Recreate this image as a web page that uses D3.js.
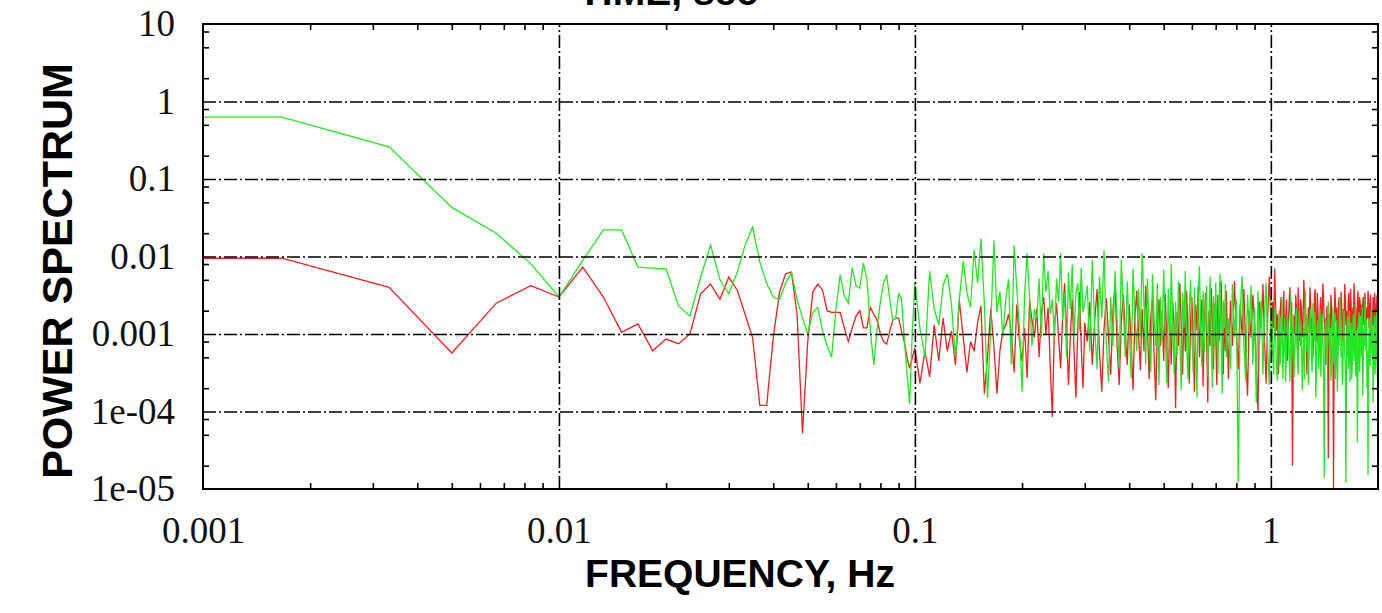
<!DOCTYPE html>
<html>
<head>
<meta charset="utf-8">
<script src="https://cdn.jsdelivr.net/npm/d3@7"></script>
<style>
  html, body { margin: 0; padding: 0; background: #fff; }
  svg { display: block; }
</style>
</head>
<body>
<div id="spectrum-plot"></div>
<script>
/* ----------------------------------------------------- Data ------------------------------------------------------------------------- */

// frequency, Hz, up to 1 Hz (bins of 1/600 Hz up to 0.3 Hz, thinned above)
const freqs = [
    0.001,
    0.001667, 0.003333, 0.005, 0.006667, 0.008333, 0.01, 0.011667, 0.013333, 0.015, 0.016667,
    0.018333, 0.02, 0.021667, 0.023333, 0.025, 0.026667, 0.028333, 0.03, 0.031667, 0.033333,
    0.035, 0.036667, 0.038333, 0.04, 0.041667, 0.043333, 0.045, 0.046667, 0.048333, 0.05,
    0.051667, 0.053333, 0.055, 0.056667, 0.058333, 0.06, 0.061667, 0.063333, 0.065, 0.066667,
    0.068333, 0.07, 0.071667, 0.073333, 0.075, 0.076667, 0.078333, 0.08, 0.081667, 0.083333,
    0.085, 0.086667, 0.088333, 0.09, 0.091667, 0.093333, 0.095, 0.096667, 0.098333, 0.1,
    0.1033, 0.1067, 0.11, 0.1133, 0.1167, 0.12, 0.1233, 0.1267, 0.13, 0.1333,
    0.1367, 0.14, 0.1433, 0.1467, 0.15, 0.1533, 0.1567, 0.16, 0.1633, 0.1667,
    0.17, 0.1733, 0.1767, 0.18, 0.1833, 0.1867, 0.19, 0.1933, 0.1967, 0.2,
    0.2033, 0.2067, 0.21, 0.2133, 0.2167, 0.22, 0.2233, 0.2267, 0.23, 0.2333,
    0.2367, 0.24, 0.2433, 0.2467, 0.25, 0.2533, 0.2567, 0.26, 0.2633, 0.2667,
    0.27, 0.2733, 0.2767, 0.28, 0.2833, 0.2867, 0.29, 0.2933, 0.2967, 0.3,
    0.305, 0.31, 0.315, 0.32, 0.325, 0.33, 0.335, 0.34, 0.345, 0.35,
    0.355, 0.36, 0.365, 0.37, 0.375, 0.38, 0.385, 0.39, 0.395, 0.4,
    0.405, 0.41, 0.415, 0.42, 0.425, 0.43, 0.435, 0.44, 0.445, 0.45,
    0.455, 0.46, 0.465, 0.47, 0.475, 0.48, 0.485, 0.49, 0.495, 0.5,
    0.505, 0.51, 0.515, 0.52, 0.525, 0.53, 0.535, 0.54, 0.545, 0.55,
    0.555, 0.56, 0.565, 0.57, 0.575, 0.58, 0.585, 0.59, 0.595, 0.6,
    0.605, 0.61, 0.615, 0.62, 0.625, 0.63, 0.635, 0.64, 0.645, 0.65,
    0.655, 0.66, 0.665, 0.67, 0.675, 0.68, 0.685, 0.69, 0.695, 0.7,
    0.705, 0.71, 0.715, 0.72, 0.725, 0.73, 0.735, 0.74, 0.745, 0.75,
    0.76, 0.77, 0.78, 0.79, 0.8, 0.81, 0.82, 0.83, 0.84, 0.85,
    0.86, 0.87, 0.88, 0.89, 0.9, 0.91, 0.92, 0.93, 0.94, 0.95,
    0.96, 0.97, 0.98, 0.99, 1.0
];

// red series power up to 1 Hz
const redPower = [
    0.0095,
    0.0095, 0.004, 0.00057, 0.0025, 0.0042, 0.003, 0.0073, 0.003, 0.00105, 0.00135,
    0.00061, 0.00086, 0.00075, 0.001, 0.0033, 0.0044, 0.0028, 0.0054, 0.0037, 0.0018,
    0.0009, 0.00012, 0.00012, 0.0009, 0.0035, 0.006, 0.0063, 0.0018, 0.000052, 0.0008,
    0.0035, 0.0044, 0.0037, 0.002, 0.0019, 0.0019, 0.0019, 0.0012, 0.0008, 0.0012,
    0.0017, 0.002, 0.0012, 0.0012, 0.0022, 0.0018, 0.0015, 0.001, 0.0008, 0.00074,
    0.0011, 0.0015, 0.0016, 0.0016, 0.0011, 0.0008, 0.0005, 0.00036, 0.0005, 0.00066,
    2.3e-4, 6e-4, 2.8e-4, 1.3e-3, 4.5e-4, 1.6e-3, 6e-4, 1.1e-3, 4e-4, 2.7e-3,
    9e-4, 3.2e-4, 8e-4, 6e-4, 1.4e-3, 2.3e-3, 1.7e-4, 5e-4, 2.1e-3, 7e-4,
    1.7e-4, 6e-4, 1.1e-3, 1.3e-3, 1.8e-3, 1e-3, 3.2e-4, 2.4e-3, 8e-4, 4.5e-4,
    1.2e-3, 2.7e-4, 2.7e-3, 1.5e-3, 9e-4, 2.1e-3, 5e-4, 1.9e-3, 3e-3, 1e-3,
    2.2e-3, 4e-4, 8.5e-5, 1.3e-3, 2.5e-3, 9e-4, 3.6e-4, 1.6e-3, 4.5e-3, 1.2e-3,
    2.2e-4, 9e-4, 2.8e-3, 6e-4, 1.5e-4, 1.1e-3, 3.5e-3, 7e-4, 2e-4, 1.4e-3,
    8e-4, 2.6e-3, 4e-4, 1.5e-3, 3.8e-3, 6e-4, 1.8e-4, 1.2e-3, 2.9e-3, 9e-4,
    3e-4, 2e-3, 4.4e-3, 7e-4, 2.2e-4, 1.4e-3, 3.2e-3, 1.1e-3, 4e-4, 2.4e-3,
    8e-4, 1.9e-4, 1.6e-3, 3.6e-3, 1e-3, 3.4e-4, 2.1e-3, 6e-4, 4.2e-3, 1.3e-3,
    2.6e-4, 1.7e-3, 3e-3, 5e-4, 1.4e-4, 1.2e-3, 2.8e-3, 7e-4, 2e-3, 4.5e-4,
    3.3e-3, 9e-4, 2e-4, 1.5e-3, 4e-4, 2.6e-3, 1.2e-3, 1.1e-4, 1.9e-3, 7e-4,
    4.5e-3, 1.3e-3, 3e-4, 2.2e-3, 6e-4, 3.6e-3, 1e-3, 2.3e-4, 1.6e-3, 3e-3,
    8e-4, 1.8e-4, 2.4e-3, 1.1e-3, 4.2e-3, 5e-4, 1.4e-3, 2.8e-3, 2.1e-4, 1.2e-3,
    3.4e-3, 9e-4, 1.3e-4, 2e-3, 7e-4, 3.9e-3, 1.5e-3, 3.5e-4, 2.5e-3, 1e-3,
    2.2e-4, 3.2e-3, 8e-4, 1.8e-3, 4.8e-3, 1.1e-3, 3e-4, 2.2e-3, 6e-4, 3.6e-3,
    2.6e-4, 2.7e-3, 7e-4, 4.8e-3, 1.1e-3, 3.5e-4, 2.4e-3, 1e-3, 3.8e-3, 6e-4,
    1.6e-4, 2e-3, 9e-4, 3.2e-3, 1.4e-3, 4e-4, 1e-4, 2.6e-3, 1.2e-3, 4.4e-3,
    8e-4, 2.3e-4, 1.8e-3, 5.5e-3, 1.5e-3
];

// green series power up to 1 Hz
const greenPower = [
    0.63,
    0.63, 0.26, 0.043, 0.02, 0.0081, 0.003, 0.0089, 0.022, 0.022, 0.0073,
    0.0071, 0.0069, 0.0023, 0.0017, 0.0054, 0.014, 0.005, 0.0033, 0.0062, 0.014,
    0.024, 0.0085, 0.0045, 0.003, 0.0028, 0.0045, 0.0062, 0.0028, 0.0016, 0.001,
    0.0019, 0.0022, 0.0011, 0.0007, 0.0005, 0.0021, 0.0058, 0.0031, 0.0025, 0.0072,
    0.0042, 0.0039, 0.0082, 0.0051, 0.0011, 0.0004, 0.0012, 0.0026, 0.0046, 0.0057,
    0.0028, 0.0015, 0.0016, 0.0033, 0.0029, 0.0009, 0.00032, 0.000125, 0.0011, 0.0045,
    0.0012, 0.0005, 0.0065, 0.0021, 0.0013, 0.0042, 0.006, 0.0024, 0.0005, 0.0028,
    0.0088, 0.0034, 0.0022, 0.012, 0.0045, 0.017, 0.0025, 0.00015, 0.0012, 0.016,
    0.0019, 0.0035, 0.0009, 0.0028, 0.0051, 0.0004, 0.014, 0.0038, 0.0012, 0.00018,
    0.0032, 0.011, 0.0029, 0.0007, 0.0021, 0.0016, 0.0052, 0.0009, 0.011, 0.0035,
    0.0065, 0.0018, 0.0028, 0.0009, 0.0052, 0.0026, 0.011, 0.0015, 0.0034, 0.0005,
    0.0062, 0.0021, 0.0078, 0.0009, 0.0033, 0.0045, 0.0011, 0.0072, 0.0019, 0.0025,
    4.2e-3, 6e-4, 9e-3, 1.2e-3, 3.5e-4, 5.5e-3, 1.6e-3, 1.2e-2, 8e-4, 2.4e-4,
    3e-3, 7e-4, 6.5e-3, 1.5e-3, 3.6e-4, 9e-3, 2.1e-3, 5e-4, 4.8e-3, 1.1e-3,
    2.7e-4, 7e-3, 1.8e-3, 6e-4, 3.8e-3, 9e-4, 1.1e-2, 2.5e-3, 4e-4, 5.2e-3,
    1.3e-3, 3.2e-4, 6e-3, 1.6e-3, 7e-4, 4.5e-3, 2.2e-4, 3e-3, 8e-4, 6.8e-3,
    1.1e-3, 2.3e-4, 3.8e-3, 6e-4, 8e-3, 1.4e-3, 3e-4, 2.6e-3, 5e-4, 4.8e-3,
    9e-4, 1.9e-4, 3.4e-3, 1.2e-3, 6.5e-3, 7e-4, 2.6e-4, 2.2e-3, 5e-3, 1e-3,
    3.2e-4, 4e-3, 8e-4, 1.5e-4, 2.9e-3, 7.5e-3, 1.2e-3, 3.8e-4, 3.6e-3, 6e-4,
    2.2e-3, 4.2e-3, 2.8e-4, 1.6e-3, 5.5e-3, 9e-4, 2e-4, 3.1e-3, 7e-4, 4.6e-3,
    1.1e-3, 3e-4, 2.5e-3, 6e-3, 8e-4, 1.7e-4, 2.7e-3, 1.2e-3, 4.4e-3, 5e-4,
    1.6e-3, 3.5e-4, 4.4e-3, 9e-4, 2.8e-3, 1.2e-5, 2e-3, 5.6e-3, 7e-4, 2.5e-4,
    3.2e-3, 1.1e-3, 4.2e-3, 4e-4, 2.2e-3, 1.3e-4, 3.6e-3, 8e-4, 2.7e-3, 3e-4,
    1.9e-3, 4.6e-3, 6e-4, 2.2e-4, 3e-3
];

// 1 - 2 Hz band, read at a finer step
const highFreqs = [
    1.00625, 1.0125, 1.01875, 1.025, 1.03125, 1.0375, 1.04375, 1.05, 1.05625, 1.0625,
    1.06875, 1.075, 1.08125, 1.0875, 1.09375, 1.1, 1.10625, 1.1125, 1.11875, 1.125,
    1.13125, 1.1375, 1.14375, 1.15, 1.15625, 1.1625, 1.16875, 1.175, 1.18125, 1.1875,
    1.19375, 1.2, 1.20625, 1.2125, 1.21875, 1.225, 1.23125, 1.2375, 1.24375, 1.25,
    1.25625, 1.2625, 1.26875, 1.275, 1.28125, 1.2875, 1.29375, 1.3, 1.30625, 1.3125,
    1.31875, 1.325, 1.33125, 1.3375, 1.34375, 1.35, 1.35625, 1.3625, 1.36875, 1.375,
    1.38125, 1.3875, 1.39375, 1.4, 1.40625, 1.4125, 1.41875, 1.425, 1.43125, 1.4375,
    1.44375, 1.45, 1.45625, 1.4625, 1.46875, 1.475, 1.48125, 1.4875, 1.49375, 1.5,
    1.50625, 1.5125, 1.51875, 1.525, 1.53125, 1.5375, 1.54375, 1.55, 1.55625, 1.5625,
    1.56875, 1.575, 1.58125, 1.5875, 1.59375, 1.6, 1.60625, 1.6125, 1.61875, 1.625,
    1.63125, 1.6375, 1.64375, 1.65, 1.65625, 1.6625, 1.66875, 1.675, 1.68125, 1.6875,
    1.69375, 1.7, 1.70625, 1.7125, 1.71875, 1.725, 1.73125, 1.7375, 1.74375, 1.75,
    1.75625, 1.7625, 1.76875, 1.775, 1.78125, 1.7875, 1.79375, 1.8, 1.80625, 1.8125,
    1.81875, 1.825, 1.83125, 1.8375, 1.84375, 1.85, 1.85625, 1.8625, 1.86875, 1.875,
    1.88125, 1.8875, 1.89375, 1.9, 1.90625, 1.9125, 1.91875, 1.925, 1.93125, 1.9375,
    1.94375, 1.95, 1.95625, 1.9625, 1.96875, 1.975, 1.98125, 1.9875, 1.99375, 2.0
];

const redHigh = [
    5e-4, 2.6e-3, 1.2e-3, 7e-3, 2.4e-3, 1.1e-3, 1.8e-3, 3e-4, 6e-4, 2e-3,
    3e-3, 8e-4, 1.2e-3, 3.6e-3, 6e-4, 1.4e-3, 2.8e-3, 4.5e-4, 1.1e-3, 2.4e-3,
    4e-3, 1e-3, 2.6e-3, 2e-5, 7e-4, 1.7e-3, 1e-3, 3.2e-3, 2e-3, 6e-4,
    4e-3, 1.5e-3, 8e-4, 2.8e-3, 2.2e-3, 9e-4, 1.4e-3, 5e-3, 2.8e-3, 1.2e-3,
    1.8e-3, 3e-4, 9e-4, 2.2e-3, 1.3e-3, 4e-3, 2.4e-3, 1e-3, 1.6e-3, 5e-4,
    1.1e-3, 2.6e-3, 3.8e-3, 1.3e-3, 8e-4, 3.4e-3, 2e-3, 7e-4, 1.2e-3, 2e-3,
    3e-3, 1.1e-3, 1.6e-3, 4.5e-3, 2.8e-3, 1.5e-3, 1.2e-3, 4e-4, 9e-4, 2.3e-3,
    1.4e-3, 2.5e-5, 6e-4, 1.8e-3, 1.1e-3, 3.2e-3, 2.2e-3, 9e-4, 1.5e-3, 1e-5,
    9e-4, 4e-3, 2.6e-3, 1.4e-3, 2.2e-3, 6e-4, 1e-3, 2.5e-3, 3e-3, 1.2e-3,
    1.6e-3, 3.5e-3, 2.4e-3, 8e-4, 1.2e-3, 2.1e-3, 1.4e-3, 4.4e-3, 2.8e-3, 1.3e-3,
    2e-3, 5e-4, 1e-3, 2.7e-3, 3.4e-3, 1.6e-3, 1.1e-3, 3.8e-3, 2.4e-3, 1e-3,
    1.4e-3, 2.2e-3, 1.2e-3, 4.5e-3, 3e-3, 1.5e-3, 2.2e-3, 6e-4, 1e-3, 2.4e-3,
    3.6e-3, 1.2e-3, 1.6e-3, 3e-3, 2.6e-3, 1.7e-3, 2.4e-3, 8e-4, 1.2e-3, 2.6e-3,
    3e-3, 1.3e-3, 2e-3, 3.4e-3, 2.4e-3, 1e-3, 1.4e-3, 2.2e-3, 1.6e-3, 3.6e-3,
    2.8e-3, 1.2e-3, 1.4e-3, 2.5e-3, 3.2e-3, 7e-4, 1e-3, 2e-3, 1.3e-3, 3e-3,
    2.2e-3, 1.1e-3, 3.4e-3, 2.4e-3, 1.2e-3, 1.5e-3, 2.4e-3, 3.2e-3, 1.2e-3, 1.8e-3
];

const greenHigh = [
    1.5e-3, 6e-4, 3e-4, 2.2e-3, 9e-4, 3.5e-4, 2.5e-4, 1.4e-3, 2e-3, 4e-4,
    8e-4, 2.8e-3, 2.6e-4, 7e-4, 1.6e-3, 2.4e-4, 6e-4, 1.8e-3, 1.2e-3, 5e-4,
    2.4e-4, 3.2e-3, 4e-4, 9e-4, 1.8e-3, 2.8e-4, 6e-4, 1.5e-3, 2.2e-3, 4.5e-4,
    3e-4, 2e-3, 1.4e-3, 7e-4, 1.1e-3, 1.9e-4, 5e-4, 1.2e-3, 2.6e-4, 3.6e-3,
    1.3e-3, 6e-4, 1.6e-3, 2.2e-4, 6e-4, 1.7e-3, 2.1e-3, 5e-4, 3.2e-4, 2.5e-3,
    1e-3, 8e-4, 1.9e-3, 1.5e-4, 4e-4, 1.3e-3, 1.5e-3, 3.5e-4, 7e-4, 2.1e-3,
    2.8e-4, 6e-4, 1.8e-3, 1e-3, 3e-4, 1.4e-5, 5e-4, 1.6e-3, 1.1e-3, 4e-4,
    7e-4, 2.6e-3, 1.9e-3, 7e-4, 1.2e-3, 2.5e-4, 3.5e-4, 1.4e-3, 2.2e-3, 4.2e-4,
    8e-4, 1.9e-3, 2.6e-4, 6e-4, 1.5e-3, 1.8e-4, 4.5e-4, 1.1e-3, 7e-4, 3e-3,
    1.6e-3, 5e-4, 9e-4, 2.2e-4, 3e-4, 1.5e-3, 2e-3, 6e-4, 3.5e-4, 1.2e-5,
    4e-4, 1.2e-3, 1.7e-3, 3.5e-4, 6e-4, 2e-3, 2.4e-4, 8e-4, 1.4e-3, 2.6e-4,
    4e-4, 1.3e-3, 1.8e-3, 4.5e-4, 7e-4, 2.4e-3, 2.8e-4, 7e-4, 1.1e-3, 4e-5,
    3e-4, 1e-3, 1.9e-3, 3.2e-4, 5e-4, 1.7e-3, 1.2e-3, 5e-4, 2.2e-3, 1.6e-4,
    4e-4, 1.2e-3, 7e-4, 2.8e-3, 1.4e-3, 6e-4, 1.5e-3, 2e-4, 6e-4, 1.5e-5,
    3e-4, 1.1e-3, 1.6e-3, 3.8e-4, 6e-4, 1.8e-3, 2.1e-3, 5e-4, 1.2e-3, 1.3e-4,
    3.2e-4, 1e-3, 1.7e-3, 3e-4, 5e-4, 1.4e-3, 2e-3, 4e-4, 2.5e-4, 8e-4
];

const xTicks = [0.001, 0.01, 0.1, 1];
const xTickLabels = ['0.001', '0.01', '0.1', '1'];
const yTicks = [10, 1, 0.1, 0.01, 0.001, 1e-4, 1e-5];
const yTickLabels = ['10', '1', '0.1', '0.01', '0.001', '1e-04', '1e-05'];

/* ----------------------------------------------------- Plot ------------------------------------------------------------------------- */

function drawSpectrum() {
    const svgWidth = 1382;
    const svgHeight = 613;
    const margin = { top: 24, right: 4, bottom: 124, left: 203 };
    const plotRight = svgWidth - margin.right;
    const plotBottom = svgHeight - margin.bottom;

    const svg = d3.select('#spectrum-plot').append('svg')
        .attr('width', svgWidth)
        .attr('height', svgHeight);

    const xScale = d3.scaleLog()
        .domain([0.001, 2])
        .range([margin.left, plotRight]);

    const yScale = d3.scaleLog()
        .domain([1e-5, 10])
        .range([plotBottom, margin.top]);

    /* minor ticks: 2..9 on x, 2/5/8 on y */
    const xMinor = [];
    [0.001, 0.01, 0.1, 1].forEach(dec => {
        for (let m = 2; m <= 9; m++) {
            if (dec * m < 2) xMinor.push(dec * m);
        }
    });
    const yMinor = [];
    [1e-5, 1e-4, 1e-3, 1e-2, 0.1, 1].forEach(dec => {
        [2, 5, 8].forEach(m => yMinor.push(dec * m));
    });

    svg.append('defs').append('clipPath')
        .attr('id', 'plot-clip')
        .append('rect')
        .attr('x', margin.left)
        .attr('y', margin.top)
        .attr('width', plotRight - margin.left)
        .attr('height', plotBottom - margin.top);

    /* spectra */
    const allFreqs = freqs.concat(highFreqs);
    const redSeries = d3.zip(allFreqs, redPower.concat(redHigh));
    const greenSeries = d3.zip(allFreqs, greenPower.concat(greenHigh));

    const line = d3.line()
        .x(d => xScale(d[0]))
        .y(d => yScale(d[1]));

    const lines = svg.append('g').attr('clip-path', 'url(#plot-clip)');

    lines.append('path')
        .datum(redSeries)
        .attr('d', line)
        .attr('fill', 'none')
        .attr('stroke', '#f02020')
        .attr('stroke-width', 1.3);

    lines.append('path')
        .datum(greenSeries)
        .attr('d', line)
        .attr('fill', 'none')
        .attr('stroke', '#22e822')
        .attr('stroke-width', 1.3);

    /* grid (dash-dot) */
    const gridX = svg.append('g')
        .attr('transform', `translate(0, ${plotBottom})`)
        .call(d3.axisBottom(xScale).tickValues([0.01, 0.1, 1]).tickSize(-(plotBottom - margin.top)).tickFormat(''));
    const gridY = svg.append('g')
        .attr('transform', `translate(${margin.left}, 0)`)
        .call(d3.axisLeft(yScale).tickValues([1, 0.1, 0.01, 0.001, 1e-4]).tickSize(-(plotRight - margin.left)).tickFormat(''));
    [gridX, gridY].forEach(g => {
        g.select('.domain').remove();
        g.selectAll('line')
            .attr('stroke', '#000')
            .attr('stroke-width', 1.6)
            .attr('stroke-dasharray', '13,3,2,3');
    });

    /* minor ticks, inward on all four sides */
    const tickAxes = [
        [d3.axisBottom(xScale).tickValues(xMinor), `translate(0, ${plotBottom})`],
        [d3.axisTop(xScale).tickValues(xMinor), `translate(0, ${margin.top})`],
        [d3.axisLeft(yScale).tickValues(yMinor), `translate(${margin.left}, 0)`],
        [d3.axisRight(yScale).tickValues(yMinor), `translate(${plotRight}, 0)`]
    ];
    tickAxes.forEach(([axis, tr]) => {
        const g = svg.append('g')
            .attr('transform', tr)
            .call(axis.tickSize(-6).tickFormat(''));
        g.select('.domain').remove();
        g.selectAll('line').attr('stroke', '#000').attr('stroke-width', 1.6);
    });

    /* frame */
    svg.append('rect')
        .attr('x', margin.left)
        .attr('y', margin.top)
        .attr('width', plotRight - margin.left)
        .attr('height', plotBottom - margin.top)
        .attr('fill', 'none')
        .attr('stroke', '#000')
        .attr('stroke-width', 2);

    /* tick labels */
    const xLabels = svg.append('g')
        .attr('transform', `translate(0, ${plotBottom})`)
        .call(d3.axisBottom(xScale).tickValues(xTicks).tickFormat((d, i) => xTickLabels[i]).tickSize(0).tickPadding(28));
    const yLabels = svg.append('g')
        .attr('transform', `translate(${margin.left}, 0)`)
        .call(d3.axisLeft(yScale).tickValues(yTicks).tickFormat((d, i) => yTickLabels[i]).tickSize(0).tickPadding(28));
    [xLabels, yLabels].forEach(g => {
        g.select('.domain').remove();
        g.selectAll('text')
            .attr('fill', '#111')
            .style('font-family', '"Liberation Serif", "DejaVu Serif", serif')
            .style('font-size', '37px');
    });

    /* axis titles */
    svg.append('text')
        .attr('x', 740)
        .attr('y', 587)
        .attr('text-anchor', 'middle')
        .style('font-family', '"Liberation Sans", Arial, sans-serif')
        .style('font-weight', 'bold')
        .style('font-size', '39px')
        .text('FREQUENCY, Hz');

    svg.append('text')
        .attr('transform', `translate(72, ${271}) rotate(-90)`)
        .attr('text-anchor', 'middle')
        .style('font-family', '"Liberation Sans", Arial, sans-serif')
        .style('font-weight', 'bold')
        .style('font-size', '43px')
        .text('POWER SPECTRUM');

    // label of the panel above, cut off by the top edge as in the source
    svg.append('text')
        .attr('x', 668)
        .attr('y', 5)
        .attr('text-anchor', 'middle')
        .style('font-family', '"Liberation Sans", Arial, sans-serif')
        .style('font-weight', 'bold')
        .style('font-size', '39px')
        .text('TIME, sec');
}

drawSpectrum();
</script>
</body>
</html>
